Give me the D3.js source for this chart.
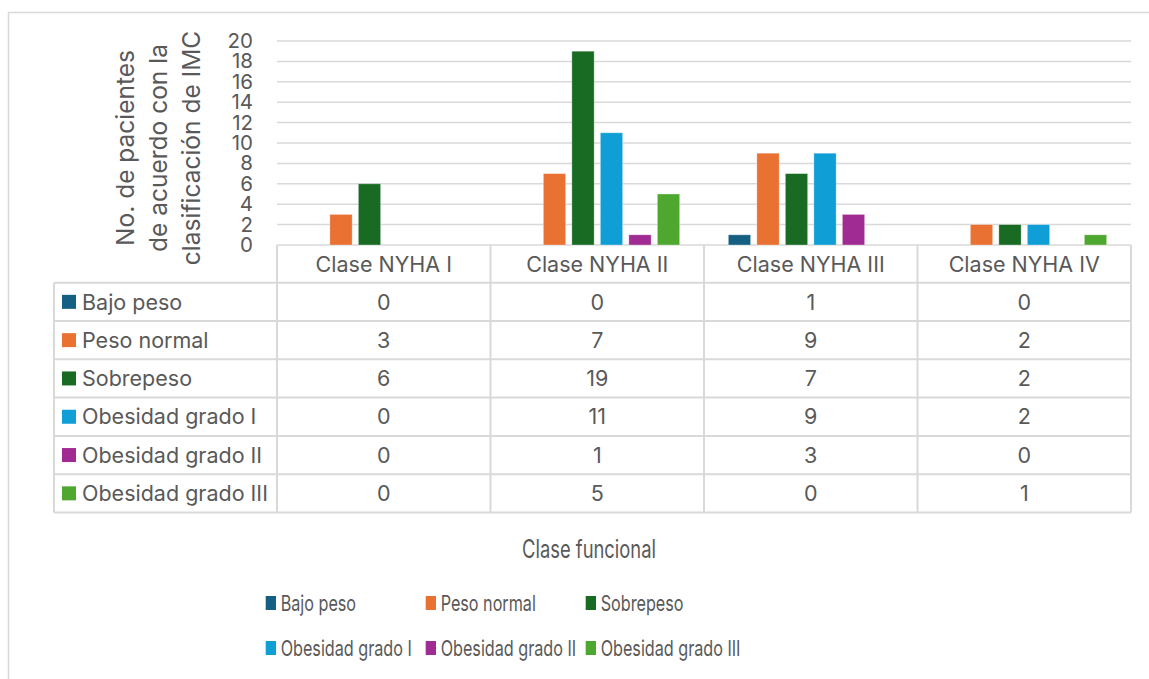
<!DOCTYPE html>
<html>
<head>
<meta charset="utf-8">
<script src="https://cdn.jsdelivr.net/npm/d3@7"></script>
<style>
  html, body { margin: 0; padding: 0; background: #ffffff; }
  svg text { font-family: "Inter", "Open Sans", sans-serif; fill: #595959; }
</style>
</head>
<body>
<svg id="chart" width="1149" height="679"></svg>
<script>
// Patients per NYHA functional class, grouped by BMI classification
const categories = ["Clase NYHA I", "Clase NYHA II", "Clase NYHA III", "Clase NYHA IV"];
const seriesNames = ["Bajo peso", "Peso normal", "Sobrepeso", "Obesidad grado I", "Obesidad grado II", "Obesidad grado III"];
const bajoPeso = [0, 0, 1, 0];
const pesoNormal = [3, 7, 9, 2];
const sobrepeso = [6, 19, 7, 2];
const obesidadI = [0, 11, 9, 2];
const obesidadII = [0, 1, 3, 0];
const obesidadIII = [0, 5, 0, 1];
const yTicks = [0, 2, 4, 6, 8, 10, 12, 14, 16, 18, 20];
const yTitleLines = ["No. de pacientes", "de acuerdo con la", "clasificación de IMC"];
const xTitle = "Clase funcional";

const seriesValues = [bajoPeso, pesoNormal, sobrepeso, obesidadI, obesidadII, obesidadIII];
const colors = ["#156082", "#E97132", "#196B24", "#0F9ED5", "#A02B93", "#4EA72E"];
const gridColor = "#d9d9d9";
const fontSize = 21.5;

const svg = d3.select("#chart");

// outer chart frame (continues past the right and bottom edges)
svg.append("rect")
  .attr("x", 8.5).attr("y", 12.5)
  .attr("width", 1200).attr("height", 700)
  .attr("fill", "none").attr("stroke", gridColor).attr("stroke-width", 1.5);

const plotLeft = 277, plotRight = 1131, plotTop = 41, plotBottom = 245;
const tableLeft = 54, headerBottom = 282.7, rowH = 38.3;

const y = d3.scaleLinear().domain([0, 20]).range([plotBottom, plotTop]);
const x0 = d3.scaleBand().domain(categories).range([plotLeft, plotRight]).padding(0);
const x1 = d3.scaleBand().domain(seriesNames).range([0, x0.bandwidth()])
  .paddingInner(0.2175).paddingOuter(0.854);

// horizontal gridlines
svg.append("g").selectAll("line").data(yTicks).join("line")
  .attr("x1", plotLeft).attr("x2", plotRight)
  .attr("y1", d => y(d)).attr("y2", d => y(d))
  .attr("stroke", gridColor).attr("stroke-width", 1.5);

// value axis labels
const yAxis = svg.append("g")
  .attr("transform", `translate(${plotLeft},0)`)
  .call(d3.axisLeft(y).tickValues(yTicks).tickSize(0).tickPadding(24));
yAxis.select(".domain").remove();
yAxis.selectAll("text")
  .style("font-family", "Inter, sans-serif")
  .style("font-size", "20.5px").attr("fill", "#595959");

// value axis title, three rotated lines
const yTitle = svg.append("g").attr("transform", "translate(125,148) rotate(-90)");
yTitleLines.forEach((t, i) => {
  yTitle.append("text")
    .attr("x", 0).attr("y", i * 33)
    .attr("dy", "0.36em")
    .attr("text-anchor", "middle")
    .style("font-size", "24.5px")
    .text(t);
});

// bars
const groups = svg.append("g").selectAll("g").data(categories).join("g")
  .attr("transform", d => `translate(${x0(d)},0)`);
groups.selectAll("rect")
  .data((c, ci) => seriesNames.map((s, si) => ({ s, si, v: seriesValues[si][ci] })))
  .join("rect")
  .attr("x", d => x1(d.s))
  .attr("width", x1.bandwidth())
  .attr("y", d => y(d.v))
  .attr("height", d => y(0) - y(d.v))
  .attr("fill", d => colors[d.si])
  .attr("stroke", "#ffffff").attr("stroke-opacity", 0.4).attr("stroke-width", 0.8);

// data table
const table = svg.append("g");
const colEdges = categories.map(c => x0(c)).concat([plotRight]);
const tableBottom = headerBottom + rowH * seriesNames.length;

// column lines, starting at the category header
table.selectAll("line.hv").data(colEdges).join("line").attr("class", "hv")
  .attr("x1", d => d).attr("x2", d => d)
  .attr("y1", plotBottom).attr("y2", tableBottom)
  .attr("stroke", gridColor).attr("stroke-width", 2);
// left edge of the series column
table.append("line")
  .attr("x1", tableLeft).attr("x2", tableLeft)
  .attr("y1", headerBottom).attr("y2", tableBottom)
  .attr("stroke", gridColor).attr("stroke-width", 2);
// row lines
const rowEdges = d3.range(seriesNames.length + 1).map(i => headerBottom + i * rowH);
table.selectAll("line.hr").data(rowEdges).join("line").attr("class", "hr")
  .attr("x1", tableLeft).attr("x2", plotRight)
  .attr("y1", d => d).attr("y2", d => d)
  .attr("stroke", gridColor).attr("stroke-width", 2);

// category headers
table.selectAll("text.cat").data(categories).join("text").attr("class", "cat")
  .attr("x", d => x0(d) + x0.bandwidth() / 2)
  .attr("y", (plotBottom + headerBottom) / 2)
  .attr("dy", "0.36em")
  .attr("text-anchor", "middle")
  .style("font-size", fontSize + "px")
  .text(d => d);

// series rows with legend keys
seriesNames.forEach((s, si) => {
  const cy = headerBottom + rowH * (si + 0.5);
  table.append("rect")
    .attr("x", 62).attr("y", cy - 7).attr("width", 14).attr("height", 14)
    .attr("fill", colors[si]);
  table.append("text")
    .attr("x", 82).attr("y", cy).attr("dy", "0.36em")
    .style("font-size", fontSize + "px").text(s);
  categories.forEach((c, ci) => {
    table.append("text")
      .attr("x", x0(c) + x0.bandwidth() / 2).attr("y", cy).attr("dy", "0.36em")
      .attr("text-anchor", "middle")
      .style("font-size", fontSize + "px")
      .text(seriesValues[si][ci]);
  });
});

// category axis title (narrow lettering)
const sx = 0.735;
svg.append("text")
  .attr("transform", `translate(589,549) scale(${sx},1)`)
  .attr("dy", "0.36em")
  .attr("text-anchor", "middle")
  .style("font-size", "25px")
  .text(xTitle);

// legend, two rows of three entries
const legend = svg.append("g").attr("transform", `translate(265.7,0) scale(${sx},1)`);
const legendRows = [603, 648];
const colStep = 160 / sx;
seriesNames.forEach((s, i) => {
  const col = i % 3, row = Math.floor(i / 3);
  const gx = col * colStep, cy = legendRows[row];
  legend.append("rect")
    .attr("x", gx).attr("y", cy - 7).attr("width", 14).attr("height", 14)
    .attr("fill", colors[i]);
  legend.append("text")
    .attr("x", gx + 20.4).attr("y", cy).attr("dy", "0.36em")
    .style("font-size", "22px").text(s);
});
</script>
</body>
</html>
